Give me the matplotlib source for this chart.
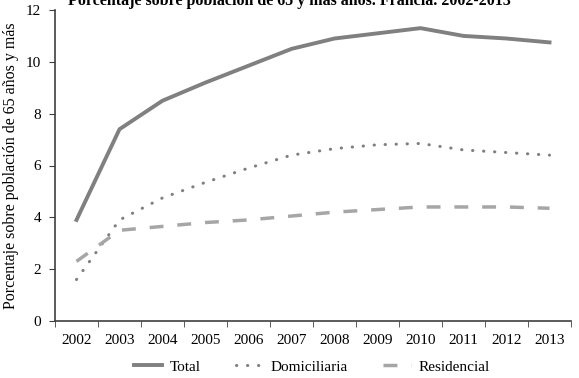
import numpy as np
import matplotlib
matplotlib.use('Agg')
import matplotlib.pyplot as plt

years = ['2002', '2003', '2004', '2005', '2006', '2007', '2008', '2009', '2010', '2011', '2012', '2013']
total = [3.9, 7.4, 8.5, 9.2, 9.85, 10.5, 10.9, 11.1, 11.3, 11.0, 10.9, 10.75]
domiciliaria = [1.6, 3.9, 4.75, 5.35, 5.9, 6.4, 6.65, 6.8, 6.85, 6.6, 6.5, 6.4]
residencial = [2.3, 3.5, 3.65, 3.8, 3.9, 4.05, 4.2, 4.3, 4.4, 4.4, 4.4, 4.35]

plt.rcParams['font.family'] = ['Liberation Serif']

fig = plt.figure(figsize=(5.79, 3.78), dpi=100)
ax = fig.add_axes([55 / 579, 57 / 378, 516 / 579, 311 / 378])

x = np.arange(len(years))
ax.plot(x, total, color='#808080', lw=2.8, label='Total')
ax.plot(x, domiciliaria, color='#808080', lw=2.2, linestyle=(0, (0.1, 3.5)),
        dash_capstyle='round', label='Domiciliaria')
ax.plot(x, residencial, color='#a6a6a6', lw=2.5, linestyle=(0, (4, 4)), label='Residencial')

ax.set_xlim(-0.5, len(years) - 0.5)
ax.set_ylim(0, 12)
ax.set_yticks(range(0, 13, 2))
ax.set_xticks(x)
ax.set_xticklabels(years)
ax.set_xticks(np.arange(-0.5, len(years), 1), minor=True)
ax.tick_params(axis='x', which='major', length=0, labelsize=11, pad=9)
ax.tick_params(axis='x', which='minor', length=4, color='#404040', direction='out')
ax.tick_params(axis='y', length=4, color='#404040', labelsize=11, pad=6)

for side in ['top', 'right']:
    ax.spines[side].set_visible(False)
for side in ['left', 'bottom']:
    ax.spines[side].set_color('#404040')
    ax.spines[side].set_linewidth(1.2)

ax.set_ylabel('Porcentaje sobre población de 65 años y más', fontsize=11.5, labelpad=5)

fig.text(0.5, 0.998, 'Porcentaje sobre población de 65 y más años. Francia. 2002-2013',
         ha='center', va='center', fontsize=11.5, fontweight='bold')

fig.legend(loc='lower center', bbox_to_anchor=(0.539, -0.025), ncol=3, frameon=False,
           fontsize=11, handlelength=1.8, handletextpad=0.5, columnspacing=2.3)

fig.savefig('out.png', dpi=100)
